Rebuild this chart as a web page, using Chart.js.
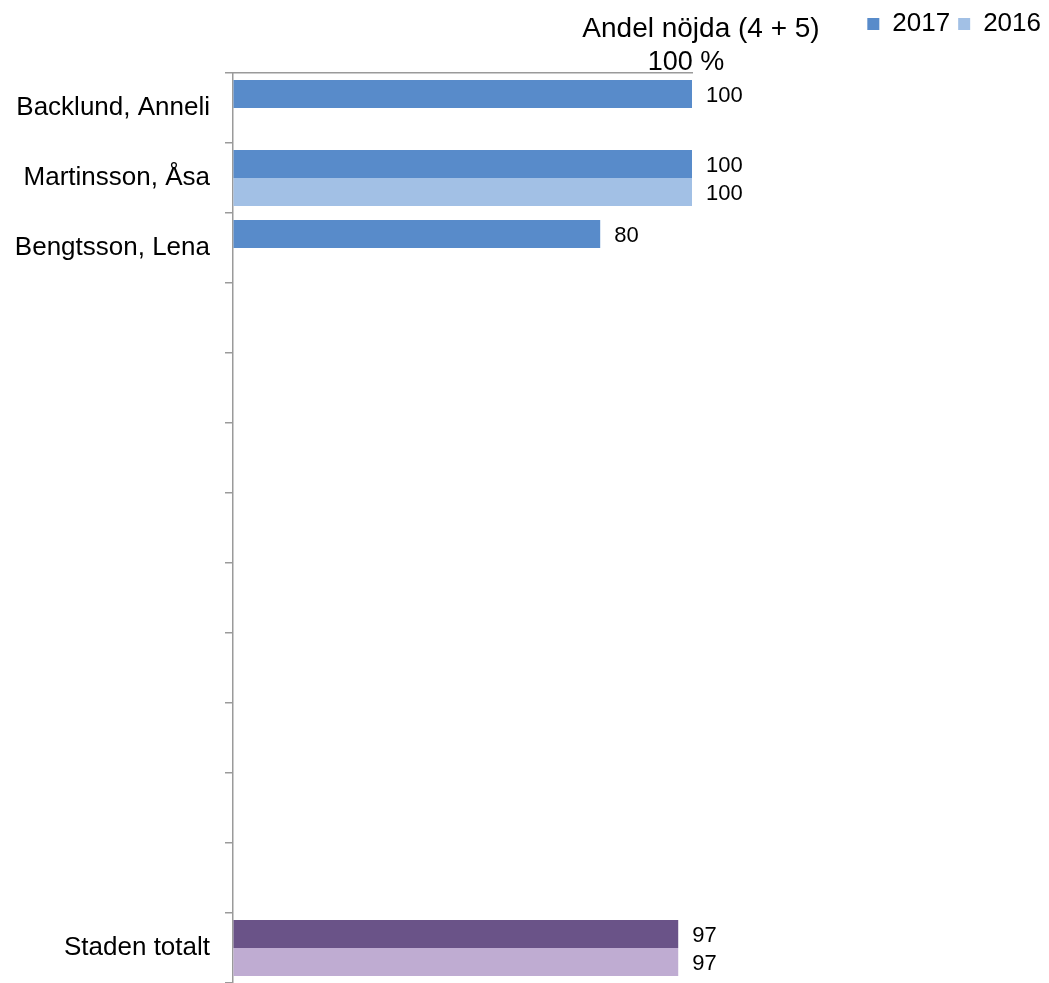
<!DOCTYPE html>
<html>
<head>
<meta charset="utf-8">
<script src="https://cdn.jsdelivr.net/npm/chart.js@4"></script>
<style>
  body { margin: 0; background: #fff; }
  #wrap { width: 1049px; height: 983px; position: relative; }
</style>
</head>
<body>
<div id="wrap"><canvas id="myChart"></canvas></div>
<script>
// data
const categories = ['Backlund, Anneli', 'Martinsson, Åsa', 'Bengtsson, Lena',
    '', '', '', '', '', '', '', '', '', 'Staden totalt'];
const values2017 = [100, 100, 80, null, null, null, null, null, null, null, null, null, 97];
const values2016 = [null, 100, null, null, null, null, null, null, null, null, null, null, 97];
const seriesNames = ['2017', '2016'];
const axisTitle = 'Andel nöjda (4 + 5)';
const axisMaxLabel = '100 %';

const FONT = "'Liberation Sans', Arial, sans-serif";
const gray = '#9a9a9a';

const isTotal = c => c === 'Staden totalt';
const colors2017 = categories.map(c => isTotal(c) ? '#6a5388' : '#588bca');
const colors2016 = categories.map(c => isTotal(c) ? '#bfacd2' : '#a2c0e5');

// values to the right of each bar + the axis title
const labelsPlugin = {
    id: 'barLabels',
    afterDatasetsDraw(chart) {
        const ctx = chart.ctx;
        ctx.save();
        ctx.fillStyle = '#000';
        ctx.font = '22px ' + FONT;
        ctx.textBaseline = 'middle';
        ctx.textAlign = 'left';
        chart.data.datasets.forEach((ds, i) => {
            chart.getDatasetMeta(i).data.forEach((bar, j) => {
                if (ds.data[j] == null) return;
                ctx.fillText(ds.data[j], bar.x + 14, bar.y + 2);
            });
        });
        ctx.font = '28px ' + FONT;
        ctx.textAlign = 'center';
        ctx.fillText(axisTitle, chart.scales.x.right + 9, 29);
        ctx.restore();
    }
};

new Chart(document.getElementById('myChart'), {
    type: 'bar',
    data: {
        labels: categories,
        datasets: [{
            label: seriesNames[0],
            data: values2017,
            backgroundColor: colors2017
        }, {
            label: seriesNames[1],
            data: values2016,
            backgroundColor: colors2016
        }]
    },
    options: {
        indexAxis: 'y',
        responsive: true,
        maintainAspectRatio: false,
        animation: false,
        layout: { padding: { left: 10, right: 0, top: 3, bottom: 0 } },
        datasets: { bar: { categoryPercentage: 0.8, barPercentage: 1.0 } },
        scales: {
            x: {
                position: 'top',
                min: 0,
                max: 100,
                grid: { display: true, drawOnChartArea: false, drawTicks: false },
                border: { display: true, color: gray, width: 1.5 },
                ticks: {
                    stepSize: 100,
                    color: '#000',
                    font: { size: 27, family: FONT },
                    padding: -6,
                    labelOffset: -6,
                    callback: v => v === 100 ? axisMaxLabel : ''
                },
                afterFit: s => { s.height = 26; }
            },
            y: {
                grid: { drawOnChartArea: false, drawTicks: true, tickLength: 8, color: gray, lineWidth: 1.5 },
                border: { display: true, color: gray, width: 1.5 },
                ticks: { color: '#000', font: { size: 26, family: FONT }, padding: 15, autoSkip: false },
                afterFit: s => { s.width = 223; s.paddingTop = 0; s.paddingBottom = 0; }
            },
            pad: {
                type: 'linear',
                position: 'right',
                display: true,
                grid: { display: false },
                border: { display: false },
                ticks: { display: false },
                afterFit: s => { s.width = 357; s.paddingTop = 0; s.paddingBottom = 0; }
            }
        },
        plugins: {
            legend: {
                position: 'top',
                align: 'end',
                labels: {
                    boxWidth: 12,
                    boxHeight: 12,
                    padding: 8,
                    color: '#000',
                    font: { size: 26, family: FONT }
                }
            },
            tooltip: { enabled: false }
        }
    },
    plugins: [labelsPlugin]
});
</script>
</body>
</html>
